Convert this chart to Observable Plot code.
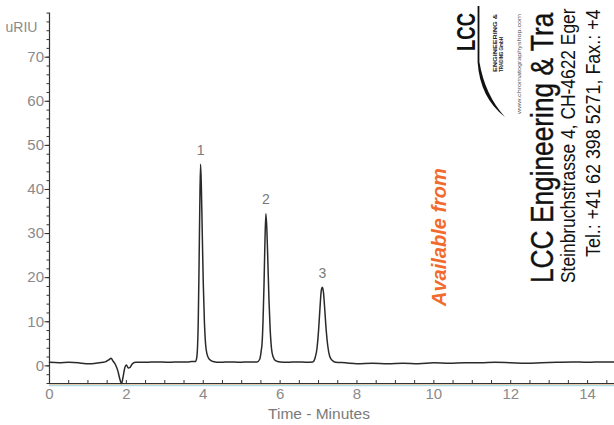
<!DOCTYPE html>
<html>
<head>
<meta charset="utf-8">
<script src="https://cdn.jsdelivr.net/npm/d3@7"></script>
<script src="https://cdn.jsdelivr.net/npm/@observablehq/plot@0.6"></script>
<style>
  html, body { margin: 0; padding: 0; background: #fff; }
  #wrap { position: relative; width: 614px; height: 425px; overflow: hidden; }
  #overlay { position: absolute; left: 0; top: 0; pointer-events: none; }
</style>
</head>
<body>
<div id="wrap">
  <div id="chart"></div>
  <svg id="overlay" width="614" height="425" xmlns="http://www.w3.org/2000/svg"
       font-family="'Liberation Sans', Arial, Helvetica, sans-serif">
    <!-- LCC logo -->
    <text transform="translate(475,51) rotate(-90)" font-size="25" font-weight="bold" fill="#111" textLength="38" lengthAdjust="spacingAndGlyphs">LCC</text>
    <path d="M477.6,6 L477.6,62 Q480,98 505,117 Q485,95 479.4,62 L479.4,6 Z" fill="#111"/>
    <text transform="translate(497,72) rotate(-90)" font-size="5.5" font-weight="bold" fill="#222" textLength="58" lengthAdjust="spacingAndGlyphs">ENGINEERING &amp;</text>
    <text transform="translate(503,72) rotate(-90)" font-size="5.5" font-weight="bold" fill="#222" textLength="35" lengthAdjust="spacingAndGlyphs">TRADING GmbH</text>
    <text transform="translate(521,114) rotate(-90)" font-size="5" fill="#555" textLength="100" lengthAdjust="spacingAndGlyphs">www.chromatographyshop.com</text>
    <!-- Company text -->
    <text transform="translate(553,283) rotate(-90) scale(1,1.17)" font-size="26.3" fill="#111" stroke="#111" stroke-width="0.35">LCC Engineering &amp; Tra</text>
    <text transform="translate(575,283) rotate(-90) scale(1,1.11)" font-size="17.4" fill="#111">Steinbruchstrasse 4, CH-4622 Eger</text>
    <text transform="translate(600,257) rotate(-90) scale(1,1.08)" font-size="17.9" fill="#111">Tel.: +41 62 398 5271, Fax.: +4</text>
    <!-- Orange note -->
    <text transform="translate(446,306) rotate(-90)" font-size="20" font-weight="bold" font-style="italic" fill="#f26b2e">Available from</text>
  </svg>
</div>
<script>
// Chromatogram trace (time in minutes, signal in uRIU)
const time = [
  0, 0.25, 0.5, 0.75, 0.95, 1.1, 1.3, 1.45, 1.55, 1.6, 1.66, 1.72, 1.78, 1.83, 1.875, 1.92, 1.96, 2.0, 2.05, 2.1, 2.16, 2.25,
  2.5, 2.8, 3.1, 3.4, 3.6, 3.7,
  3.8, 3.83, 3.85, 3.87, 3.89, 3.91, 3.93, 3.95, 3.975, 4.0, 4.03, 4.06, 4.1, 4.16, 4.25,
  4.45, 4.7, 4.95, 5.2, 5.4, 5.47, 5.51, 5.53, 5.555, 5.58, 5.605, 5.63, 5.655, 5.68, 5.71, 5.74, 5.775, 5.82, 5.88, 6.0,
  6.2, 6.45, 6.7, 6.85, 6.91, 6.96, 7.0, 7.04, 7.07, 7.1, 7.13, 7.16, 7.2, 7.24, 7.29, 7.36, 7.45,
  7.7, 8.0, 8.4, 8.8, 9.2, 9.6, 10.0, 10.4, 10.8, 11.2, 11.6, 12.0, 12.4, 12.8, 13.2, 13.6, 14.0, 14.4, 14.7
];
const signal = [
  0.8, 0.7, 0.8, 0.7, 0.5, 0.5, 0.7, 0.9, 1.4, 1.7, 1.0, 0.2, -1.2, -3.0, -4.0, -2.2, -0.4, 0.2, -0.5, -0.3, 0.5, 0.8,
  0.8, 0.9, 0.8, 0.9, 0.9, 1.0,
  1.0, 1.8, 4, 10, 22, 36, 45.7, 41, 30, 19, 10, 5, 2.6, 1.5, 1.0,
  0.8, 0.9, 0.8, 0.9, 0.9, 1.5, 3.5, 5, 10, 18, 28, 34.5, 31, 24, 15, 8.5, 4, 2, 1.2, 0.9,
  0.8, 0.9, 0.8, 0.9, 1.8, 4, 8, 13.5, 17, 17.8, 16.5, 13, 8, 4.5, 2.2, 1.2, 0.8,
  0.7, 0.5, 0.6, 0.5, 0.6, 0.5, 0.7, 0.6, 0.7, 0.7, 0.8, 0.7, 0.6, 0.7, 0.8, 0.9, 0.8, 0.9, 0.9
];

// Peak annotations
const peakTime = [3.93, 5.63, 7.10];
const peakHeight = [45.7, 34.5, 17.8];
const peakLabel = ["1", "2", "3"];

// Axis ticks
const xTickLabels = [0, 2, 4, 6, 8, 10, 12, 14];
const yTickLabels = [0, 10, 20, 30, 40, 50, 60, 70];
const xMinorTicks = d3.range(0, 14.7, 0.5);
const yMinorTicks = d3.range(-4, 80.1, 2);

const trace = time.map((t, i) => ({t, v: signal[i]}));
const peaks = peakTime.map((t, i) => ({t, v: peakHeight[i], label: peakLabel[i]}));

const chart = Plot.plot({
  width: 614,
  height: 425,
  marginLeft: 49,
  marginRight: 0,
  marginTop: 12.6,
  marginBottom: 42,
  x: {domain: [0, 14.7]},
  y: {domain: [-4, 80]},
  style: {fontFamily: "'Liberation Sans', Arial, Helvetica, sans-serif", background: "white", overflow: "visible"},
  marks: [
    Plot.ruleY([-4], {stroke: "#a9dcec", strokeWidth: 1.5, dy: 2}),
    Plot.ruleY([-4], {stroke: "#e9b27a", strokeWidth: 0.8, dy: 0.8}),
    Plot.ruleY([-4], {stroke: "#333", strokeWidth: 1.2}),
    Plot.ruleX([0], {stroke: "#333", strokeWidth: 1.2}),
    Plot.axisX({ticks: xMinorTicks, tickSize: -3, tickFormat: () => "", label: null, color: "#333"}),
    Plot.axisX({ticks: xTickLabels, tickSize: 0, tickPadding: 5, label: null, color: "#8a8a8a", fontSize: 15}),
    Plot.axisY({ticks: yMinorTicks, tickSize: 2.5, tickFormat: () => "", label: null, color: "#333"}),
    Plot.axisY({ticks: yTickLabels, tickSize: 4.5, tickPadding: 1, label: null, color: "#8a8a8a", fontSize: 15, stroke: "#333"}),
    Plot.text(["uRIU"], {frameAnchor: "top-left", dx: -44, dy: 8.5, textAnchor: "start", fill: "#8a8a8a", fontSize: 14}),
    Plot.text(["Time - Minutes"], {frameAnchor: "bottom", dx: -13, dy: 35, fill: "#7a7a7a", fontSize: 15.5}),
    Plot.line(trace, {x: "t", y: "v", curve: "monotone-x", stroke: "#2a2a2a", strokeWidth: 1.5}),
    Plot.text(peaks, {x: "t", y: "v", text: "label", dy: -14, fill: "#7a7a7a", fontSize: 14})
  ]
});
document.getElementById("chart").appendChild(chart);
</script>
</body>
</html>
